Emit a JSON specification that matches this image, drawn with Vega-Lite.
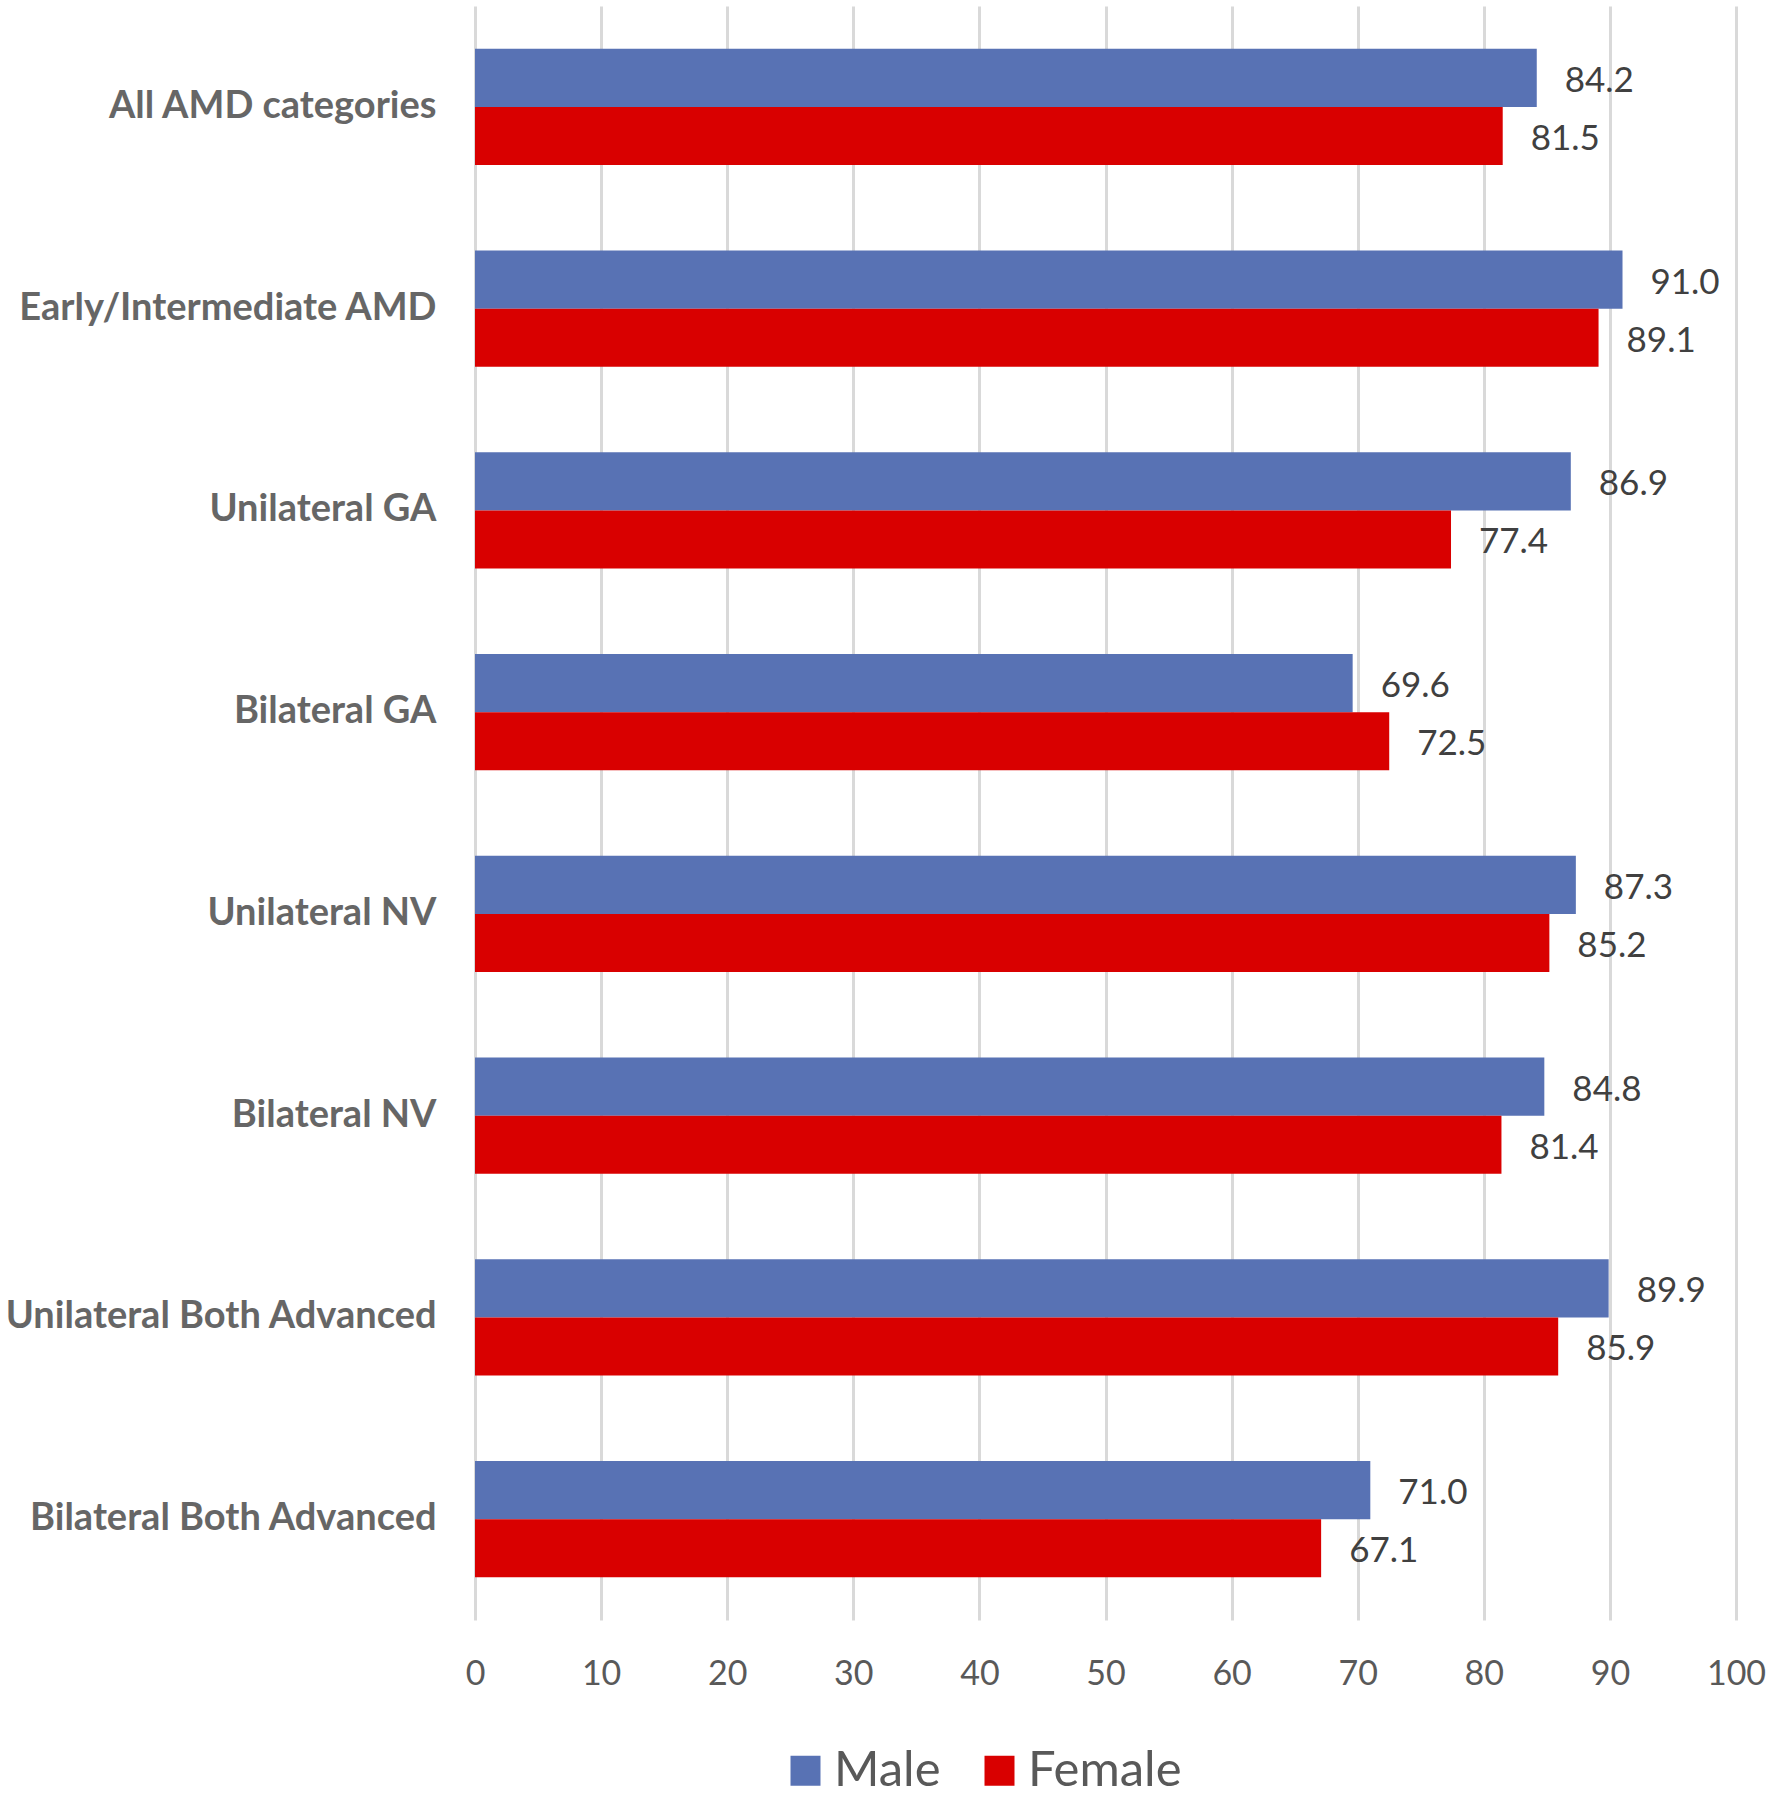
{
  "$schema": "https://vega.github.io/schema/vega-lite/v6.json",
  "width": 1261,
  "height": 1614,
  "autosize": {"type": "none"},
  "padding": {"left": 475, "top": 6, "right": 37, "bottom": 180},
  "background": "white",
  "config": {"font": "Lato", "view": {"stroke": null}},
  "data": {
    "values": [
      {"category": "All AMD categories", "sex": "Male", "value": 84.2},
      {"category": "All AMD categories", "sex": "Female", "value": 81.5},
      {"category": "Early/Intermediate AMD", "sex": "Male", "value": 91.0},
      {"category": "Early/Intermediate AMD", "sex": "Female", "value": 89.1},
      {"category": "Unilateral GA", "sex": "Male", "value": 86.9},
      {"category": "Unilateral GA", "sex": "Female", "value": 77.4},
      {"category": "Bilateral GA", "sex": "Male", "value": 69.6},
      {"category": "Bilateral GA", "sex": "Female", "value": 72.5},
      {"category": "Unilateral NV", "sex": "Male", "value": 87.3},
      {"category": "Unilateral NV", "sex": "Female", "value": 85.2},
      {"category": "Bilateral NV", "sex": "Male", "value": 84.8},
      {"category": "Bilateral NV", "sex": "Female", "value": 81.4},
      {"category": "Unilateral Both Advanced", "sex": "Male", "value": 89.9},
      {"category": "Unilateral Both Advanced", "sex": "Female", "value": 85.9},
      {"category": "Bilateral Both Advanced", "sex": "Male", "value": 71.0},
      {"category": "Bilateral Both Advanced", "sex": "Female", "value": 67.1}
    ]
  },
  "encoding": {
    "y": {
      "field": "category",
      "type": "nominal",
      "sort": ["All AMD categories", "Early/Intermediate AMD", "Unilateral GA", "Bilateral GA", "Unilateral NV", "Bilateral NV", "Unilateral Both Advanced", "Bilateral Both Advanced"],
      "scale": {"paddingInner": 0.425, "paddingOuter": 0.2125},
      "axis": {
        "title": null,
        "domain": false,
        "ticks": false,
        "labelPadding": 39,
        "labelFontSize": 38,
        "labelFontWeight": "bold",
        "labelColor": "#666666",
        "labelLimit": 600
      }
    },
    "yOffset": {
      "field": "sex",
      "type": "nominal",
      "sort": ["Male", "Female"],
      "scale": {"paddingInner": 0, "paddingOuter": 0}
    },
    "x": {
      "field": "value",
      "type": "quantitative",
      "scale": {"domain": [0, 100], "nice": false},
      "axis": {
        "title": null,
        "values": [0, 10, 20, 30, 40, 50, 60, 70, 80, 90, 100],
        "domain": false,
        "ticks": false,
        "grid": true,
        "gridColor": "#d9d9d9",
        "gridWidth": 3,
        "labelPadding": 37,
        "labelFontSize": 34,
        "labelColor": "#595959",
        "labelFlush": false
      }
    }
  },
  "layer": [
    {
      "mark": {"type": "bar"},
      "encoding": {
        "color": {
          "field": "sex",
          "type": "nominal",
          "scale": {"domain": ["Male", "Female"], "range": ["#5872b4", "#d90000"]},
          "legend": {
            "orient": "none",
            "legendX": 306,
            "legendY": 1740,
            "direction": "horizontal",
            "title": null,
            "symbolType": "square",
            "symbolSize": 900,
            "symbolStrokeWidth": 0,
            "symbolOpacity": 1,
            "labelFontSize": 49,
            "labelColor": "#595959",
            "labelOffset": 4,
            "columnPadding": 34
          }
        }
      }
    },
    {
      "mark": {"type": "text", "align": "left", "baseline": "middle", "dx": 28, "dy": 3, "fontSize": 35, "color": "#404040"},
      "encoding": {
        "text": {"field": "value", "type": "quantitative", "format": ".1f"}
      }
    }
  ]
}
